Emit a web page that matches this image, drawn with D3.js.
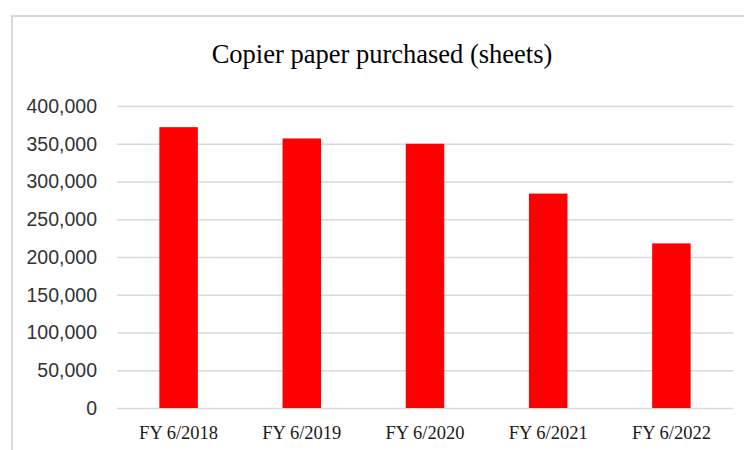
<!DOCTYPE html>
<html>
<head>
<meta charset="utf-8">
<script src="https://cdn.jsdelivr.net/npm/d3@7"></script>
<style>
  html, body { margin: 0; padding: 0; background: #ffffff; }
  svg { display: block; }
</style>
</head>
<body>
<script>
// Copier paper purchased per fiscal year (sheets)
const categories = ["FY 6/2018", "FY 6/2019", "FY 6/2020", "FY 6/2021", "FY 6/2022"];
const sheets = [372000, 357000, 350000, 284000, 218000];
const yTicks = [0, 50000, 100000, 150000, 200000, 250000, 300000, 350000, 400000];
const titleText = "Copier paper purchased (sheets)";

const W = 744, H = 450;
const plot = { left: 117, right: 733, top: 106, bottom: 408 };

const svg = d3.select("body").append("svg")
  .attr("width", W).attr("height", H);

// chart frame (runs off the right and bottom edges)
svg.append("rect")
  .attr("x", 12).attr("y", 16)
  .attr("width", 800).attr("height", 500)
  .attr("fill", "#ffffff")
  .attr("stroke", "#d9d9d9").attr("stroke-width", 2);

const x = d3.scaleBand()
  .domain(categories)
  .range([plot.left, plot.right])
  .paddingInner(0.6875)
  .paddingOuter(0.34375);

const y = d3.scaleLinear()
  .domain([0, 400000])
  .range([plot.bottom, plot.top]);

// horizontal gridlines and value labels
const yAxis = d3.axisLeft(y)
  .tickValues(yTicks)
  .tickFormat(d3.format(","))
  .tickSize(-(plot.right - plot.left))
  .tickPadding(20);

const gy = svg.append("g")
  .attr("transform", `translate(${plot.left},0)`)
  .call(yAxis);
gy.select(".domain").remove();
gy.selectAll(".tick line")
  .attr("stroke", "#d9d9d9").attr("stroke-width", 1.5);
gy.selectAll(".tick text")
  .attr("fill", "#333333")
  .style("font-family", "'Liberation Sans', Arial, sans-serif")
  .style("font-size", "19.5px");

// bars
svg.append("g").selectAll("rect")
  .data(categories)
  .join("rect")
  .attr("x", d => x(d))
  .attr("width", x.bandwidth())
  .attr("y", (d, i) => y(sheets[i]))
  .attr("height", (d, i) => y(0) - y(sheets[i]))
  .attr("fill", "#ff0000");

// category labels
const xAxis = d3.axisBottom(x).tickSize(0).tickPadding(18);
const gx = svg.append("g")
  .attr("transform", `translate(0,${plot.bottom})`)
  .call(xAxis);
gx.select(".domain").remove();
gx.selectAll(".tick text")
  .attr("fill", "#1a1a1a")
  .style("font-family", "'Liberation Serif', 'Times New Roman', serif")
  .style("font-size", "18.5px");

// title
svg.append("text")
  .attr("x", 382).attr("y", 63)
  .attr("text-anchor", "middle")
  .attr("fill", "#000000")
  .style("font-family", "'Liberation Serif', 'Times New Roman', serif")
  .style("font-size", "26.5px")
  .text(titleText);
</script>
</body>
</html>
